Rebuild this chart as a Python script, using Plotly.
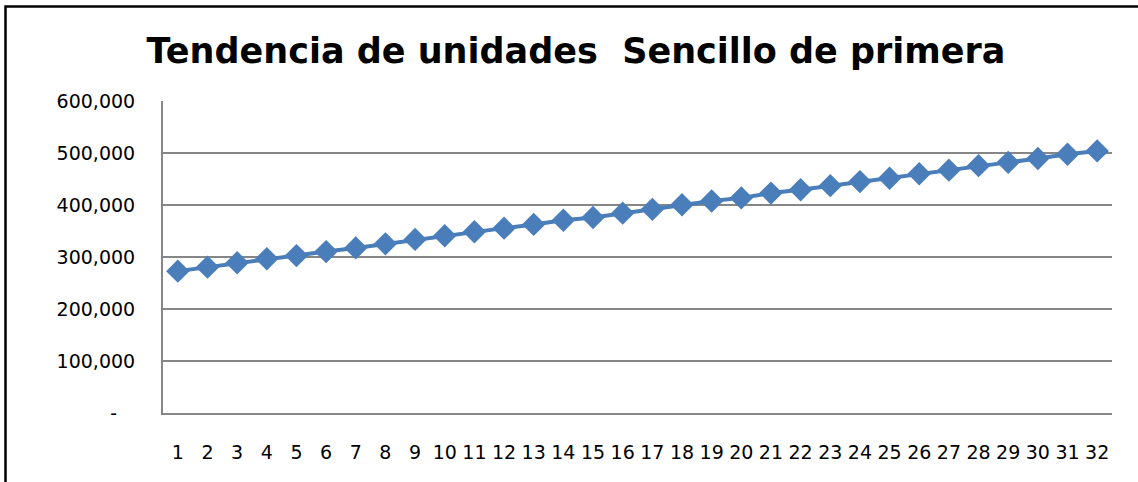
import plotly.graph_objects as go

categories = [str(i) for i in range(1, 33)]
units = [272800, 280500, 288900, 296600, 302700, 310400, 317500, 325300, 333800, 340800,
         348600, 355500, 362700, 370600, 375900, 384300, 391600, 400600, 407800, 413700,
         422900, 429400, 437200, 445000, 451500, 460000, 467000, 475700, 482000, 489300,
         497700, 504000]
y_tickvals = [0, 100000, 200000, 300000, 400000, 500000, 600000]
y_ticktext = ["-\u00a0\u00a0\u00a0", "100,000", "200,000", "300,000", "400,000", "500,000", "600,000"]
title_text = "Tendencia de unidades  Sencillo de primera"

W, H = 1138, 482
L, R, T, B = 163, 26, 101, 69
pw, ph = W - L - R, H - T - B

fig = go.Figure()
fig.add_trace(go.Scatter(
    x=categories, y=units, mode="lines+markers",
    line=dict(color="#4a7ebb", width=4),
    marker=dict(symbol="diamond", size=18, color="#4a7ebb"),
    showlegend=False, cliponaxis=False,
))

# outer chart frame (left and top edges visible)
fig.add_shape(type="rect", xref="paper", yref="paper",
              x0=(5.5 - L) / pw, x1=(W + 40 - L) / pw,
              y0=-0.5, y1=(H - B - 6.5) / ph,
              line=dict(color="black", width=2.5), fillcolor="rgba(0,0,0,0)", layer="below")

fig.update_layout(
    width=W, height=H,
    margin=dict(l=L, r=R, t=T, b=B),
    paper_bgcolor="white", plot_bgcolor="white",
    title=dict(text=title_text, x=576 / W, xanchor="center", y=1 - 51 / H, yanchor="middle",
               font=dict(family="DejaVu Sans", size=35, color="black", weight="bold")),
    font=dict(family="DejaVu Sans", color="black"),
)
fig.update_xaxes(
    type="category", showgrid=False, showline=True, linecolor="#868686", linewidth=2,
    ticks="", tickfont=dict(size=19, family="DejaVu Sans", color="black"),
    ticklabelstandoff=21, range=[-0.5, 31.5],
)
fig.update_yaxes(
    range=[0, 600000], tickvals=y_tickvals, ticktext=y_ticktext,
    showgrid=True, gridcolor="#868686", gridwidth=1.5,
    showline=True, linecolor="#868686", linewidth=2, zeroline=False,
    ticks="", tickfont=dict(size=19, family="DejaVu Sans", color="black"),
    ticklabelstandoff=22,
)
fig.write_html("out.html", config={"displayModeBar": False},
               post_script="document.body.style.margin='0';")
